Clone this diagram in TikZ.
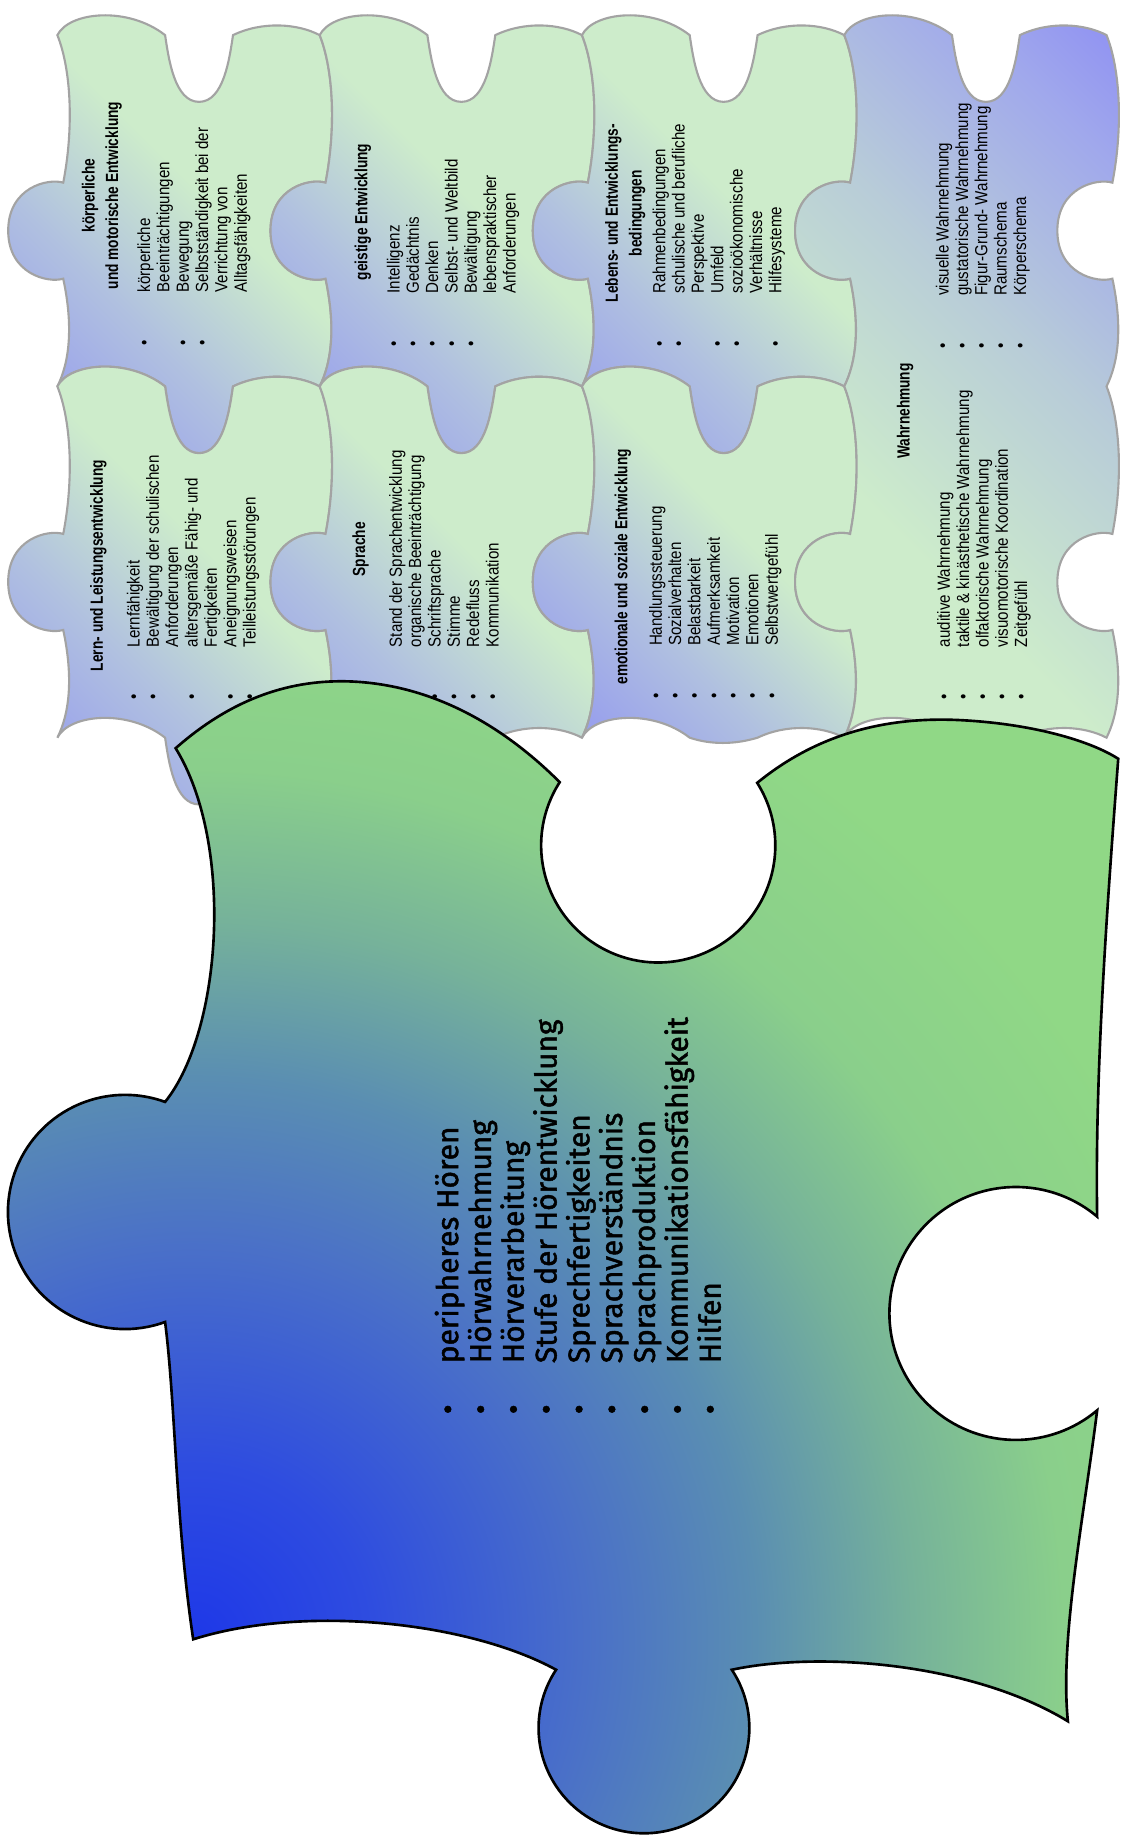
\documentclass[tikz,border=0pt]{standalone}
\usepackage{fontspec}
\usepackage{xcolor}
\setmainfont{Liberation Sans}
\newfontfamily\listfont[FakeStretch=0.86]{Liberation Sans}
\newfontfamily\headfont[FakeStretch=0.78]{Liberation Sans}
\newfontfamily\bigfont[FakeBold=1.6]{Fira Sans}

\definecolor{pblue}{HTML}{8E92F2}
\definecolor{pmid}{HTML}{B0C0E0}
\definecolor{pgreen}{HTML}{CDECCB}
\definecolor{wmid}{HTML}{B8CCD8}
\definecolor{wblue}{HTML}{A0A8EC}
\definecolor{wdeep}{HTML}{8C8CF4}
\definecolor{pgray}{HTML}{A3A3A3}
\definecolor{bgA}{HTML}{1E38E8}
\definecolor{bgB}{HTML}{2E4CE0}
\definecolor{bgC}{HTML}{4A70C8}
\definecolor{bgD}{HTML}{5A8EB2}
\definecolor{bgE}{HTML}{76B29A}
\definecolor{bgF}{HTML}{8ACF8B}
\definecolor{bgG}{HTML}{90D886}

\pgfdeclarehorizontalshading{smallshade}{100bp}{color(0bp)=(pblue); color(15bp)=(pblue); color(38bp)=(pmid); color(56bp)=(pgreen); color(100bp)=(pgreen)}
\pgfdeclarehorizontalshading{wahrshade}{100bp}{color(0bp)=(pgreen); color(38bp)=(pgreen); color(58bp)=(wmid); color(75bp)=(wblue); color(86bp)=(wdeep); color(100bp)=(wdeep)}
\pgfdeclareradialshading{bigshade}{\pgfpointorigin}{color(0bp)=(bgA); color(3.1bp)=(bgB); color(7bp)=(bgC); color(10bp)=(bgD); color(12.8bp)=(bgE); color(15.5bp)=(bgF); color(19bp)=(bgG); color(50bp)=(bgG)}

\newcommand{\smallitem}{\makebox[30pt][l]{\textbullet}}
\newcommand{\smallcont}{\hspace*{30pt}}
\newcommand{\bigitem}{\makebox[29pt][l]{\textbullet}}

% small piece, 224 x 300; top and right edges
\newcommand{\piecetop}{(0,0) .. controls (10,-20) and (60,-25) .. (92,0)
  .. controls (95,20) and (100,57) .. (121,57) .. controls (142,57) and (147,20) .. (150,0)
  .. controls (175,-12) and (205,-10) .. (224,0)
  .. controls (236,30) and (238,80) .. (229,126)
  .. controls (216,122) and (182,130) .. (182,167) .. controls (182,204) and (216,212) .. (229,208)
  .. controls (238,250) and (234,280) .. (224,300)}
\newcommand{\pieceleft}{.. controls (10,280) and (14,250) .. (5,208)
  .. controls (-8,212) and (-42,204) .. (-42,167) .. controls (-42,130) and (-8,122) .. (5,126)
  .. controls (14,80) and (12,30) .. (0,0) -- cycle}
\newcommand{\piecepath}{\piecetop
  .. controls (205,290) and (175,288) .. (150,300)
  .. controls (147,320) and (142,357) .. (121,357) .. controls (100,357) and (95,320) .. (92,300)
  .. controls (60,275) and (10,280) .. (0,300) \pieceleft}
\newcommand{\piecepathflat}{\piecetop
  .. controls (205,290) and (175,288) .. (150,300)
  .. controls (130,306) and (110,306) .. (92,300)
  .. controls (60,275) and (10,280) .. (0,300) \pieceleft}

\newcommand{\bigpath}{(150,639)
    .. controls (200,595) and (250,580) .. (300,582)
    .. controls (370,585) and (430,620) .. (478,668)
    arc[start angle=212.7,end angle=-32.3,radius=100]
    .. controls (700,625) and (760,612) .. (820,615)
    .. controls (880,618) and (930,632) .. (955,648)
    .. controls (945,780) and (935,920) .. (937,1039)
    arc[start angle=-50,end angle=-310,radius=108]
    .. controls (925,1300) and (905,1400) .. (912,1470)
    .. controls (830,1420) and (700,1410) .. (625,1426)
    arc[start angle=-33.5,end angle=213.5,radius=90]
    .. controls (400,1385) and (260,1370) .. (165,1400)
    .. controls (150,1300) and (150,1200) .. (141,1129)
    arc[start angle=70,end angle=290,radius=100]
    .. controls (190,880) and (200,720) .. (150,639) -- cycle}

\begin{document}
\begin{tikzpicture}[x=0.023414cm,y=-0.023414cm,
  piece/.style={shade,shading=smallshade,shading angle=45,draw=pgray,line width=1.2pt},
  wahrpiece/.style={shade,shading=wahrshade,shading angle=45,draw=pgray,line width=1.2pt},
  bigline/.style={draw=black,line width=1.5pt},
  ptitle/.style={rotate=90,inner sep=0pt,align=center,font=\headfont\bfseries\fontsize{10}{13.5}\selectfont},
  plist/.style={rotate=90,anchor=north west,inner sep=0pt,align=left,font=\listfont\fontsize{10}{11}\selectfont},
  blist/.style={rotate=90,anchor=north west,inner sep=0pt,align=left,font=\bigfont\fontsize{17}{18.66}\selectfont}]
  \fill[white] (0,0) rectangle (961,1568);
  \useasboundingbox (0,0) rectangle (961,1568);

  \path[piece,shift={(49,30)}] \piecepath;
  \path[piece,shift={(273,30)}] \piecepath;
  \path[piece,shift={(497,30)}] \piecepath;
  \path[piece,shift={(49,330)}] \piecepath;
  \path[piece,shift={(273,330)}] \piecepath;
  \path[piece,shift={(497,330)}] \piecepathflat;
  \path[wahrpiece,shift={(721,30)}] (0,0) .. controls (10,-20) and (60,-25) .. (92,0)
    .. controls (95,20) and (100,57) .. (121,57) .. controls (142,57) and (147,20) .. (150,0)
    .. controls (175,-12) and (205,-10) .. (224,0)
    .. controls (236,30) and (238,80) .. (229,126)
    .. controls (216,122) and (182,130) .. (182,167) .. controls (182,204) and (216,212) .. (229,208)
    .. controls (238,250) and (234,280) .. (224,300)
    .. controls (236,330) and (238,380) .. (229,426)
    .. controls (216,422) and (182,430) .. (182,467) .. controls (182,504) and (216,512) .. (229,508)
    .. controls (238,550) and (234,580) .. (224,600)
    .. controls (205,590) and (175,588) .. (150,600)
    .. controls (147,620) and (142,657) .. (121,657) .. controls (100,657) and (95,620) .. (92,600)
    .. controls (60,575) and (10,580) .. (0,600)
    .. controls (10,580) and (14,550) .. (5,508)
    .. controls (-8,512) and (-42,504) .. (-42,467) .. controls (-42,430) and (-8,422) .. (5,426)
    .. controls (14,380) and (12,330) .. (0,300)
    .. controls (10,280) and (14,250) .. (5,208)
    .. controls (-8,212) and (-42,204) .. (-42,167) .. controls (-42,130) and (-8,122) .. (5,126)
    .. controls (14,80) and (12,30) .. (0,0) -- cycle;

  \node[ptitle] (kmeT) at (87,167) {körperliche\\und motorische Entwicklung};
  \node[plist] (kmeL) at (117,295) {\smallitem körperliche\\ \smallcont Beeinträchtigungen\\ \smallitem Bewegung\\ \smallitem Selbstständigkeit bei der\\ \smallcont Verrichtung von\\ \smallcont Alltagsfähigkeiten};
  \node[ptitle] (geiT) at (310,181) {geistige Entwicklung};
  \node[plist] (geiL) at (330,296) {\smallitem Intelligenz\\ \smallitem Gedächtnis\\ \smallitem Denken\\ \smallitem Selbst- und Weltbild\\ \smallitem Bewältigung\\ \smallcont lebenspraktischer\\ \smallcont Anforderungen};
  \node[ptitle] (lebT) at (534,182) {Lebens- und Entwicklungs-\\bedingungen};
  \node[plist] (lebL) at (557,296) {\smallitem Rahmenbedingungen\\ \smallitem schulische und berufliche\\ \smallcont Perspektive\\ \smallitem Umfeld\\ \smallitem sozioökonomische\\ \smallcont Verhältnisse\\ \smallitem Hilfesysteme};
  \node[ptitle] (wahT) at (773,351) {Wahrnehmung};
  \node[plist] (wahU) at (799,298) {\smallitem visuelle Wahrnehmung\\ \smallitem gustatorische Wahrnehmung\\ \smallitem Figur-Grund- Wahrnehmung\\ \smallitem Raumschema\\ \smallitem Körperschema};
  \node[plist] (wahD) at (800,598) {\smallitem auditive Wahrnehmung\\ \smallitem taktile \& kinästhetische Wahrnehmung\\ \smallitem olfaktorische Wahrnehmung\\ \smallitem visuomotorische Koordination\\ \smallitem Zeitgefühl};
  \node[ptitle] (lernT) at (84,483) {Lern- und Leistungsentwicklung};
  \node[plist] (lernL) at (108,598) {\smallitem Lernfähigkeit\\ \smallitem Bewältigung der schulischen\\ \smallcont Anforderungen\\ \smallitem altersgemäße Fähig- und\\ \smallcont Fertigkeiten\\ \smallitem Aneignungsweisen\\ \smallitem Teilleistungsstörungen};
  \node[ptitle] (sprT) at (308,469) {Sprache};
  \node[plist] (sprL) at (332,598) {\smallitem Stand der Sprachentwicklung\\ \smallitem organische Beeinträchtigung\\ \smallitem Schriftsprache\\ \smallitem Stimme\\ \smallitem Redefluss\\ \smallitem Kommunikation};
  \node[ptitle] (emoT) at (532,484) {emotionale und soziale Entwicklung};
  \node[plist] (emoL) at (554,597) {\smallitem Handlungssteuerung\\ \smallitem Sozialverhalten\\ \smallitem Belastbarkeit\\ \smallitem Aufmerksamkeit\\ \smallitem Motivation\\ \smallitem Emotionen\\ \smallitem Selbstwertgefühl};

  \begin{scope}
    \clip \bigpath;
    \shade[shading=bigshade] (165,1400) circle[radius=1200];
  \end{scope}
  \path[bigline] \bigpath;

  \node[blist] (hoer) at (371,1208) {\bigitem peripheres Hören\\ \bigitem Hörwahrnehmung\\ \bigitem Hörverarbeitung\\ \bigitem Stufe der Hörentwicklung\\ \bigitem Sprechfertigkeiten\\ \bigitem Sprachverständnis\\ \bigitem Sprachproduktion\\ \bigitem Kommunikationsfähigkeit\\ \bigitem Hilfen};
\end{tikzpicture}
\end{document}
